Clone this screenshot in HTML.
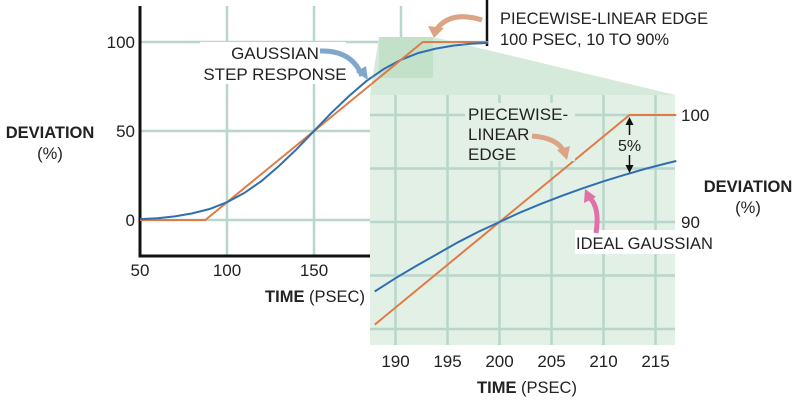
<!DOCTYPE html>
<html><head><meta charset="utf-8"><style>
body{margin:0;background:#fff;width:797px;height:402px;overflow:hidden}
svg{display:block;font-family:"Liberation Sans",Arial,sans-serif}
</style></head><body>
<svg id="c" width="797" height="402" viewBox="0 0 797 402"></svg>
<script>
// main chart data
const mainTimes=[50,60,70,80,90,100,110,120,130,140,150,160,170,180,190,200,210,220,230,240,250];
const mainGauss=[0.5,1.0,2.0,3.7,6.2,10,15.2,22,30.5,39.8,50,60.2,69.5,78,84.8,90,93.8,96.3,98,99,99.5];
const edgeTimes=[50,87.5,212.5,250];
const edgeValues=[0,0,100,100];
const mainXTicks=[50,100,150];
const mainYTicks=[0,50,100];
// inset data
const insetTimes=[188,190,192,194,196,198,200,202,204,206,208,210,212,214,216,217];
const insetGauss=[83.5,84.75,85.9,87.0,88.1,89.1,90.0,90.9,91.7,92.45,93.15,93.8,94.4,94.96,95.47,95.7];
const insetEdgeTimes=[188,212.5,217];
const insetEdgeValues=[80.4,100,100];
const insetXTicks=[190,195,200,205,210,215];
const insetYTicks=[100,90];

const NS="http://www.w3.org/2000/svg";
const svg=document.getElementById('c');
function el(tag,attrs,parent){const e=document.createElementNS(NS,tag);for(const k in attrs)e.setAttribute(k,attrs[k]);(parent||svg).appendChild(e);return e;}
function txt(x,y,s,anchor,size,weight,name){const t=el('text',{x:x,y:y,'text-anchor':anchor||'start','font-size':size||17,'font-weight':weight||'normal',fill:'#222'});t.textContent=s;


return t;}
const mx=t=>140+(t-50)*1.74, my=v=>220-v*1.78;
const ix=t=>499.5+(t-200)*10.4, iy=v=>115+(100-v)*10.7;
const grid='#b8d6cb';

// main grid
[100,150,200].forEach(t=>{const l=el('line',{x1:mx(t),x2:mx(t),y1:6,y2:256,stroke:grid,'stroke-width':2.5});

});
mainYTicks.forEach(v=>{const l=el('line',{x1:140,x2:487,y1:my(v),y2:my(v),stroke:grid,'stroke-width':2.5});

});
// axes
el('path',{d:'M140 6 V256 H487',fill:'none',stroke:'#111','stroke-width':3,});
el('line',{x1:487,x2:487,y1:0,y2:46,stroke:'#111','stroke-width':2.5,});
mainYTicks.forEach(v=>txt(135,my(v)+6,String(v),'end',17,'normal','y-tick-label'));
mainXTicks.forEach(t=>txt(mx(t),276,String(t),'middle',17,'normal','x-tick-label'));
txt(50,138,'DEVIATION','middle',16.5,'bold','y-axis-title');
txt(50,159,'(%)','middle',16.5,'normal','y-axis-unit');
const tt=txt(315,302,'','middle',16.5,'normal','x-axis-title');tt.innerHTML='<tspan font-weight="bold">TIME</tspan> (PSEC)';

// series main
const gpath=mainTimes.map((t,i)=>(i?'L':'M')+mx(t).toFixed(1)+' '+my(mainGauss[i]).toFixed(1)).join(' ');
const epath=edgeTimes.map((t,i)=>(i?'L':'M')+mx(t).toFixed(1)+' '+my(edgeValues[i]).toFixed(1)).join(' ');
el('path',{d:epath,fill:'none',stroke:'#e07b45','stroke-width':2,});
el('path',{d:gpath,fill:'none',stroke:'#2f6fb0','stroke-width':2,});

// labels with white backing
el('rect',{x:200,y:42,width:146,height:42,fill:'#fff'});
txt(275,59,'GAUSSIAN','middle',17,'normal','gaussian-label');
txt(275,80,'STEP RESPONSE','middle',17,'normal','gaussian-label-2');
el('path',{d:'M320 51 Q352 50 362 76',fill:'none',stroke:'#7fa6cc','stroke-width':5,});
el('path',{d:'M356 72 L368 80 L366 66 Z',fill:'#7fa6cc'});
txt(500,24,'PIECEWISE-LINEAR EDGE','start',16.5,'normal','edge-title');
txt(500,45,'100 PSEC, 10 TO 90%','start',16.5,'normal','edge-subtitle');
el('path',{d:'M482 20 Q450 10 436 30',fill:'none',stroke:'#dca384','stroke-width':5,});
el('path',{d:'M428 26 L434 38 L444 28 Z',fill:'#dca384'});

// zoom projection
el('path',{d:'M379 37 L433 37 L675 95 L675 345 L370 345 L370 95 Z',fill:'#e3f0e6',});
el('path',{d:'M379 37 L433 37 L675 95 L370 95 Z',fill:'#d6eadb'});
el('rect',{x:379,y:37,width:54,height:41,fill:'#c3e1c9',});
const cp=el('clipPath',{id:'zc'});el('path',{d:'M379 37 L433 37 L675 95 L370 95 Z'},cp);
el('path',{d:gpath,fill:'none',stroke:'#2f6fb0','stroke-width':2,'clip-path':'url(#zc)'});
el('path',{d:epath,fill:'none',stroke:'#e07b45','stroke-width':2,'clip-path':'url(#zc)'});

// inset grid
insetXTicks.forEach(t=>{const l=el('line',{x1:ix(t),x2:ix(t),y1:95,y2:345,stroke:grid,'stroke-width':2.5});

});
[100,95,90,85,80].forEach(v=>{const l=el('line',{x1:370,x2:675,y1:iy(v),y2:iy(v),stroke:grid,'stroke-width':2.5});

});
insetXTicks.forEach(t=>txt(ix(t),367,String(t),'middle',17,'normal','inset-x-tick-label'));
const it=txt(527,393,'','middle',16.5,'normal','inset-x-axis-title');it.innerHTML='<tspan font-weight="bold">TIME</tspan> (PSEC)';
insetYTicks.forEach(v=>txt(681,iy(v)+6,String(v),'start',17,'normal','inset-y-tick-label'));
txt(748,192,'DEVIATION','middle',16.5,'bold','inset-y-axis-title');
txt(748,213,'(%)','middle',16.5,'normal','inset-y-axis-unit');

// inset series
el('path',{d:insetEdgeTimes.map((t,i)=>(i?'L':'M')+ix(t).toFixed(1)+' '+iy(insetEdgeValues[i]).toFixed(1)).join(' '),fill:'none',stroke:'#e07b45','stroke-width':2,});
el('path',{d:insetTimes.map((t,i)=>(i?'L':'M')+ix(t).toFixed(1)+' '+iy(insetGauss[i]).toFixed(1)).join(' '),fill:'none',stroke:'#2f6fb0','stroke-width':2,});

// inset annotations
el('rect',{x:465,y:103,width:110,height:58,fill:'#e3f0e6'});
txt(468,120,'PIECEWISE-','start',17,'normal','inset-edge-label');
txt(468,140,'LINEAR','start',17,'normal','inset-edge-label-2');
txt(468,160,'EDGE','start',17,'normal','inset-edge-label-3');
el('path',{d:'M532 136 Q558 138 564 152',fill:'none',stroke:'#dca384','stroke-width':5,});
el('path',{d:'M557 150 L567 160 L570 146 Z',fill:'#dca384'});
const x5=ix(212.5);
el('line',{x1:x5,x2:x5,y1:122,y2:135,stroke:'#111','stroke-width':1.5});
el('path',{d:`M${x5-4} 125 L${x5} 117 L${x5+4} 125 Z`,fill:'#111'});
el('line',{x1:x5,x2:x5,y1:155,y2:168,stroke:'#111','stroke-width':1.5});
el('path',{d:`M${x5-4} 165 L${x5} 173 L${x5+4} 165 Z`,fill:'#111'});
txt(x5,151,'5%','middle',16,'normal','five-percent-label');
el('rect',{x:575,y:230,width:140,height:24,fill:'#fff'});
txt(576,249,'IDEAL GAUSSIAN','start',16.5,'normal','ideal-gaussian-label');
el('path',{d:'M596 233 Q600 208 590 198',fill:'none',stroke:'#e070a8','stroke-width':5,});
el('path',{d:'M584 203 L585 189 L596 197 Z',fill:'#e070a8'});
</script>
</body></html>
